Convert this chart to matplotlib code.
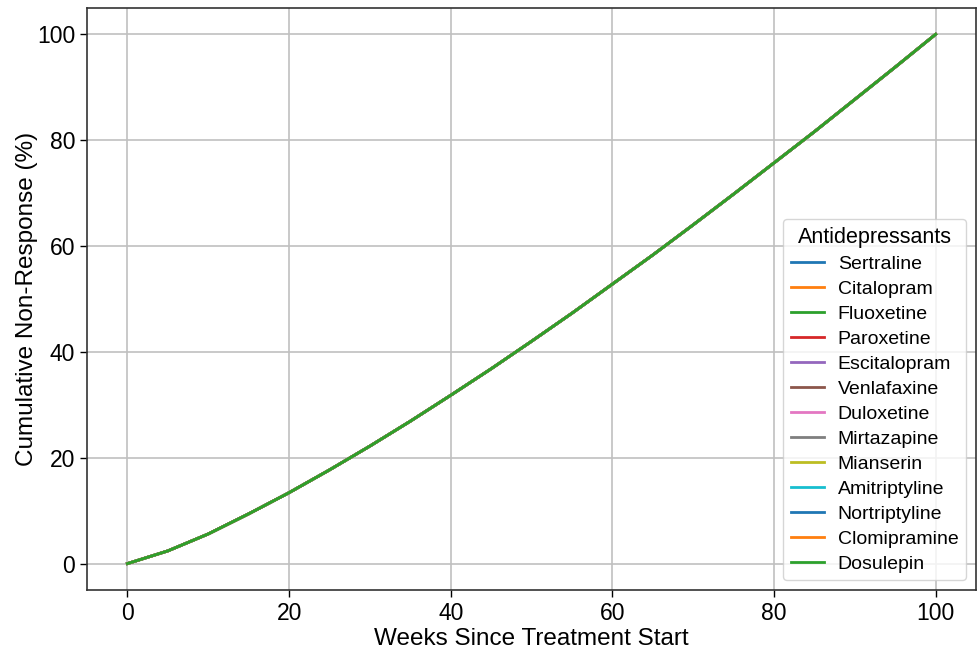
import matplotlib
matplotlib.use("Agg")
import matplotlib.pyplot as plt

plt.rcParams['font.family'] = ['Liberation Sans', 'DejaVu Sans']

# drug names (legend order)
drugs = ['Sertraline', 'Citalopram', 'Fluoxetine', 'Paroxetine', 'Escitalopram',
         'Venlafaxine', 'Duloxetine', 'Mirtazapine', 'Mianserin', 'Amitriptyline',
         'Nortriptyline', 'Clomipramine', 'Dosulepin']

# weeks and cumulative non-response (%), identical for every drug
weeks = [0, 5, 10, 15, 20, 25, 30, 35, 40, 45, 50,
         55, 60, 65, 70, 75, 80, 85, 90, 95, 100]
non_response = [0.0, 2.4, 5.6, 9.4, 13.4, 17.7, 22.2, 26.9, 31.8, 36.8, 42.0,
                47.3, 52.8, 58.3, 64.0, 69.8, 75.7, 81.6, 87.7, 93.8, 100.0]

fig, ax = plt.subplots(figsize=(9.78, 6.52), dpi=100)
fig.subplots_adjust(left=0.089, right=0.998, top=0.988, bottom=0.095)

for name in drugs:
    ax.plot(weeks, non_response, linewidth=2, label=name)

ax.grid(True, color='#c0c0c0', linewidth=1.2)
ax.set_axisbelow(True)
for s in ax.spines.values():
    s.set_color('#333333')
    s.set_linewidth(1.2)

ax.tick_params(labelsize=16.5, length=5, width=1)
ax.set_xlabel('Weeks Since Treatment Start', fontsize=17.5, labelpad=2)
ax.set_ylabel('Cumulative Non-Response (%)', fontsize=17.5, labelpad=-1)
ax.set_xticks([0, 20, 40, 60, 80, 100])
ax.set_yticks([0, 20, 40, 60, 80, 100])

leg = ax.legend(title='Antidepressants', loc='lower right', fontsize=14,
                title_fontsize=15.5, handlelength=1.7, handletextpad=0.7,
                labelspacing=0.38, framealpha=0.8, borderaxespad=0.5)

plt.savefig('out.png', dpi=100)
